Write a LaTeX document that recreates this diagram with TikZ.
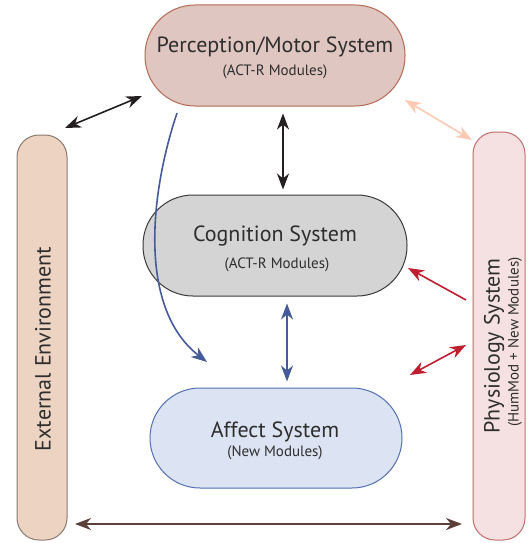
\documentclass[tikz,border=0pt]{standalone}
\usepackage{fontspec}
\setmainfont{PT Sans}
\usetikzlibrary{arrows.meta}
\definecolor{percfill}{HTML}{DFC6C0}
\definecolor{percdraw}{HTML}{B46A55}
\definecolor{cogfill}{HTML}{D4D4D4}
\definecolor{cogdraw}{HTML}{3A3A3A}
\definecolor{afffill}{HTML}{DCE3F2}
\definecolor{affdraw}{HTML}{5470B0}
\definecolor{extfill}{HTML}{EDD3C2}
\definecolor{extdraw}{HTML}{8A7A70}
\definecolor{physfill}{HTML}{F5E1E1}
\definecolor{physdraw}{HTML}{C46E6E}
\definecolor{txt}{HTML}{2E2E2E}
\definecolor{darkarrow}{HTML}{231F20}
\definecolor{brownarrow}{HTML}{5A4038}
\definecolor{peach}{HTML}{FDCBB3}
\definecolor{bluearrow}{HTML}{465C9A}
\definecolor{redarrow}{HTML}{BE1E2D}
\tikzset{
  stadium/.style={draw, line width=1pt, rounded corners=50pt, text=txt, align=center},
  sidebox/.style={draw, line width=1pt, rounded corners=22pt},
  tip/.style={Stealth[length=16pt,width=12pt,inset=5pt]},
  conn/.style={line width=1.6pt, -{Stealth[length=16pt,width=12pt,inset=5pt]}},
  dconn/.style={line width=1.6pt, {Stealth[length=16pt,width=12pt,inset=5pt]}-{Stealth[length=16pt,width=12pt,inset=5pt]}},
  maintext/.style={font=\fontsize{22}{26}\selectfont, text=txt},
  subtext/.style={font=\fontsize{15}{18}\selectfont, text=txt}
}
\begin{document}
\begin{tikzpicture}[x=1pt,y=-1pt]
\useasboundingbox[fill=white] (0,0) rectangle (531,543);
% boxes
\node[stadium, fill=percfill, draw=percdraw, minimum width=260pt, minimum height=101pt] (perc) at (275,55.5) {};
\node[stadium, fill=cogfill, draw=cogdraw, minimum width=264pt, minimum height=101pt] (cog) at (275,245.5) {};
\node[stadium, fill=afffill, draw=affdraw, minimum width=252pt, minimum height=100pt] (aff) at (276,438) {};
\node[sidebox, fill=extfill, draw=extdraw, minimum width=50pt, minimum height=405pt] (ext) at (42,337.5) {};
\node[sidebox, fill=physfill, draw=physdraw, minimum width=52pt, minimum height=408pt] (phys) at (499,336) {};
% texts
\node[maintext] (perct) at (275,47) {Perception/Motor System};
\node[subtext] (percs) at (275,72) {(ACT-R Modules)};
\node[maintext] (cogt) at (275,236) {Cognition System};
\node[subtext] (cogs) at (277,265) {(ACT-R Modules)};
\node[maintext] (afft) at (275,432) {Affect System};
\node[subtext] (affs) at (275,453) {(New Modules)};
\node[maintext, rotate=90] (extt) at (43,349) {External Environment};
\node[maintext, rotate=90] (physt) at (494,346) {Physiology System};
\node[subtext, rotate=90] (physs) at (515,342) {(HumMod + New Modules)};
% free-end coordinates
\coordinate (a1) at (65,128);
\coordinate (a2) at (142,96);
\coordinate (b1) at (405,100);
\coordinate (b2) at (472,140);
\coordinate (c1) at (177,113);
\coordinate (c2) at (207,362);
\coordinate (r1) at (466,300);
\coordinate (r2) at (408,268);
\coordinate (s1) at (410,375);
\coordinate (s2) at (466,345);
\coordinate (h1) at (75,524);
\coordinate (h2) at (462,524);
% connectors
\draw[dconn, darkarrow] (a1) -- (a2);
\draw[dconn, peach] (b1) -- (b2);
\draw[dconn, darkarrow, shorten <=7pt, shorten >=5pt] ([xshift=8pt]perc.south) -- ([xshift=8pt]cog.north);
\draw[dconn, bluearrow, shorten <=7pt, shorten >=6pt] ([xshift=12pt]cog.south) -- ([xshift=11pt]aff.north);
\draw[conn, bluearrow] (c1) .. controls (148,200) and (140,310) .. (c2);
\draw[conn, redarrow] (r1) -- (r2);
\draw[dconn, redarrow] (s1) -- (s2);
\draw[dconn, brownarrow] (h1) -- (h2);
\end{tikzpicture}
\end{document}
